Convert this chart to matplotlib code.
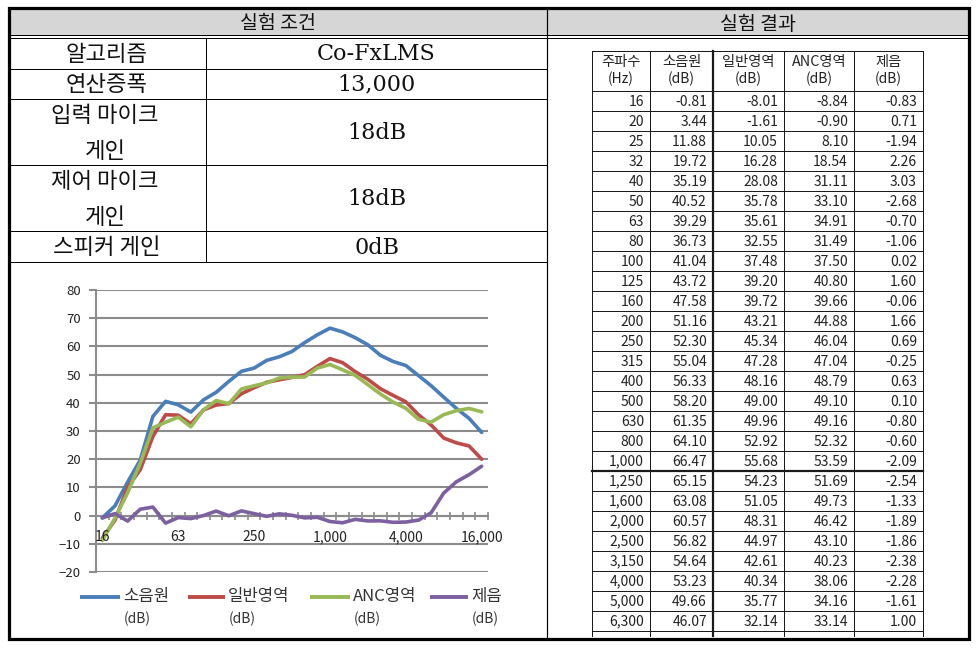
import numpy as np
import matplotlib
matplotlib.use("Agg")
import matplotlib.pyplot as plt
from matplotlib.lines import Line2D
from matplotlib.patches import Rectangle

plt.rcParams['font.family'] = ['Noto Sans CJK KR', 'DejaVu Sans']

# ---------------- data ----------------
freq_labels = ["16", "20", "25", "32", "40", "50", "63", "80", "100", "125", "160",
               "200", "250", "315", "400", "500", "630", "800", "1,000", "1,250",
               "1,600", "2,000", "2,500", "3,150", "4,000", "5,000", "6,300",
               "8,000", "10,000", "12,500", "16,000"]
source = [-0.81, 3.44, 11.88, 19.72, 35.19, 40.52, 39.29, 36.73, 41.04, 43.72, 47.58,
          51.16, 52.30, 55.04, 56.33, 58.20, 61.35, 64.10, 66.47, 65.15, 63.08, 60.57,
          56.82, 54.64, 53.23, 49.66, 46.07, 42.0, 38.0, 34.5, 29.5]
general = [-8.01, -1.61, 10.05, 16.28, 28.08, 35.78, 35.61, 32.55, 37.48, 39.20, 39.72,
           43.21, 45.34, 47.28, 48.16, 49.00, 49.96, 52.92, 55.68, 54.23, 51.05, 48.31,
           44.97, 42.61, 40.34, 35.77, 32.14, 27.5, 25.8, 24.7, 20.0]
anc = [-8.84, -0.90, 8.10, 18.54, 31.11, 33.10, 34.91, 31.49, 37.50, 40.80, 39.66,
       44.88, 46.04, 47.04, 48.79, 49.10, 49.16, 52.32, 53.59, 51.69, 49.73, 46.42,
       43.10, 40.23, 38.06, 34.16, 33.14, 35.8, 37.2, 38.0, 36.8]
reduction = [-0.83, 0.71, -1.94, 2.26, 3.03, -2.68, -0.70, -1.06, 0.02, 1.60, -0.06,
             1.66, 0.69, -0.25, 0.63, 0.10, -0.80, -0.60, -2.09, -2.54, -1.33, -1.89,
             -1.86, -2.38, -2.28, -1.61, 1.00, 8.0, 12.0, 14.5, 17.5]
series_names = ["소음원", "일반영역", "ANC영역", "제음"]
series_colors = ["#4A7EBB", "#BE4B48", "#98B954", "#7D60A0"]
table_headers = ["주파수", "소음원", "일반영역", "ANC영역", "제음"]
table_units = ["(Hz)", "(dB)", "(dB)", "(dB)", "(dB)"]
n_table_rows = 27
axis_label_idx = [0, 6, 12, 18, 24, 30]
cond_labels = ["알고리즘", "연산증폭", "입력 마이크\n게인", "제어 마이크\n게인", "스피커 게인"]
cond_values = ["Co-FxLMS", "13,000", "18dB", "18dB", "0dB"]
title_left = "실험 조건"
title_right = "실험 결과"

W, H = 978, 654
fig = plt.figure(figsize=(W / 100, H / 100), dpi=100)
px = 0.72  # points per pixel

# overlay axes in pixel coords
ax0 = fig.add_axes([0, 0, 1, 1])
ax0.set_xlim(0, W)
ax0.set_ylim(H, 0)
ax0.axis('off')

L, R, T, B = 9, 969, 8, 639
XDIV = 547
# header fill
ax0.add_patch(Rectangle((L, T), R - L, 27, facecolor="#d6d6d6", edgecolor='none', zorder=0))
# outer border
ax0.add_patch(Rectangle((L, T), R - L, B - T, facecolor='none', edgecolor='black',
                        lw=3.2 * px, zorder=5))
# header double line
ax0.plot([L, R], [35, 35], color='black', lw=1 * px)
ax0.plot([L, R], [38, 38], color='black', lw=1 * px)
ax0.plot([XDIV, XDIV], [T, B], color='black', lw=1.2 * px)

serif_lat = ['DejaVu Serif', 'Noto Sans CJK KR']
ax0.text((L + XDIV) / 2, 29.5, title_left, ha='center', va='baseline', fontsize=14,
         color='#111111')
ax0.text((XDIV + R) / 2, 29.5, title_right, ha='center', va='baseline', fontsize=14,
         color='#111111')

# left conditions table
row_lines = [38, 68.5, 99, 165, 231, 262]
XCOL = 206
for y in row_lines[1:]:
    ax0.plot([L, XDIV], [y, y], color='black', lw=1 * px)
ax0.plot([XCOL, XCOL], [row_lines[0], row_lines[-1]], color='black', lw=1 * px)
for i, (lab, val) in enumerate(zip(cond_labels, cond_values)):
    y0, y1 = row_lines[i], row_lines[i + 1]
    yc = (y0 + y1) / 2 + 1
    if "\n" in lab:
        a, b = lab.split("\n")
        ax0.text(105, yc - 18, a, ha='center', va='center', fontsize=16, color='#111111')
        ax0.text(105, yc + 18, b, ha='center', va='center', fontsize=16, color='#111111')
    else:
        ax0.text(107, yc, lab, ha='center', va='center', fontsize=16, color='#111111')
    ax0.text((XCOL + XDIV) / 2, yc, val, ha='center', va='center', fontsize=16,
             family=serif_lat, color='#111111')

# right results table
col_x = [592, 650, 713, 784, 854, 923]
t_top, h_bot, rh = 51, 91, 20
t_bot = h_bot + n_table_rows * rh
for j, x in enumerate(col_x):
    lw = 2.2 if j == 2 else 1.0
    ax0.plot([x, x], [t_top, t_bot + 5], color='#1a1a1a', lw=lw * px)
ax0.plot([col_x[0], col_x[-1]], [t_top, t_top], color='#1a1a1a', lw=1 * px)
for k in range(n_table_rows + 1):
    y = h_bot + k * rh
    lw = 2.2 if k == 19 else 1.0
    ax0.plot([col_x[0], col_x[-1]], [y, y], color='#1a1a1a', lw=lw * px)
for j in range(5):
    xc = (col_x[j] + col_x[j + 1]) / 2
    ax0.text(xc, 62, table_headers[j], ha='center', va='center', fontsize=10.3, color='#222222')
    ax0.text(xc, 79, table_units[j], ha='center', va='center', fontsize=10, color='#222222')
cols = [freq_labels, source, general, anc, reduction]
for k in range(n_table_rows):
    yc = h_bot + k * rh + rh / 2 + 0.5
    for j in range(5):
        v = cols[j][k]
        s = v if isinstance(v, str) else f"{v:.2f}"
        ax0.text(col_x[j + 1] - 6, yc, s, ha='right', va='center', fontsize=10,
                 color='#222222')

# ---------------- chart ----------------
cx0, cx1, cy80, cym20 = 96, 488, 290, 572
ax = fig.add_axes([cx0 / W, 1 - cym20 / H, (cx1 - cx0) / W, (cym20 - cy80) / H])
ax.set_facecolor('none')
x = np.arange(len(freq_labels))
for vals, c in zip([source, general, anc, reduction], series_colors):
    ax.plot(x, vals, color=c, lw=2.6, solid_capstyle='round', zorder=3)
ax.set_xlim(-0.5, len(freq_labels) - 0.5)
ax.set_ylim(-20, 80)
ax.set_yticks(np.arange(-20, 81, 10))
ax.yaxis.grid(True, color='#8c8c8c', lw=1.5)
ax.set_axisbelow(True)
ax.spines['top'].set_visible(False)
ax.spines['right'].set_visible(False)
ax.spines['bottom'].set_position(('data', 0))
for sp in ['left', 'bottom']:
    ax.spines[sp].set_color('#8c8c8c')
    ax.spines[sp].set_linewidth(1.5)
ax.set_xticks(np.arange(-0.5, len(freq_labels), 1))
ax.set_xticklabels([])
ax.tick_params(axis='x', direction='inout', length=6, width=1.2, color='#8c8c8c')
ax.tick_params(axis='y', direction='out', length=5, width=1.5, color='#8c8c8c',
               labelsize=9.5, labelcolor='#222222', pad=6)
for i in axis_label_idx:
    ax.text(x[i], -7.6, freq_labels[i], ha='center', va='center', fontsize=10,
            color='#222222', zorder=4)

# legend
leg_handles = [(80, 120), (188, 225), (310, 350), (430, 468)]
for (a, b), c, name in zip(leg_handles, series_colors, series_names):
    ax0.add_line(Line2D([a, b], [597, 597], color=c, lw=2.8, solid_capstyle='butt'))
    ax0.text(b + 3, 597, name, ha='left', va='center', fontsize=12, color='#333333')
    ax0.text(b + 4, 619, "(dB)", ha='left', va='center', fontsize=10, color='#333333')

fig.savefig("out.png", dpi=100)
